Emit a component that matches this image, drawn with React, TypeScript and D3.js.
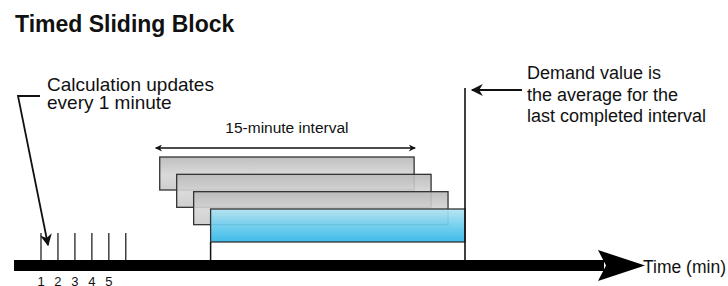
import React from 'react'
import * as d3 from 'd3'

// minute ticks on the time axis and their labels
const tickMinutes = [1, 2, 3, 4, 5, 6]
const tickLabels = ['1', '2', '3', '4', '5']
// the sliding 15-minute blocks, each one starts a minute later
const blockStarts = [8, 9, 10, 11]
const intervalLength = 15
const noteLeft = ['Calculation updates', 'every 1 minute']
const noteRight = ['Demand value is', 'the average for the', 'last completed interval']

const W = 728
const H = 286

export default function App() {
    const x = d3.scaleLinear().domain([1, 26]).range([41, 465])
    const row = d3.scaleLinear().domain([0, blockStarts.length - 1]).range([157, 209])
    const blockH = 33
    const axisY = 265.5
    const last = blockStarts[blockStarts.length - 1]
    const demandX = x(last + intervalLength)
    const font = '"Liberation Sans", Arial, sans-serif'

    return <svg width={W} height={H} style={{position: 'absolute', left: 0, top: 0, background: '#fff'}} fontFamily={font}>
        <defs>
            <linearGradient id="grey" x1="0" x2="0" y1="0" y2="1">
                <stop offset="0" stopColor="#b8b8b8" />
                <stop offset="0.55" stopColor="#d6d6d6" />
                <stop offset="1" stopColor="#cacaca" />
            </linearGradient>
            <linearGradient id="blue" x1="0" x2="0" y1="0" y2="1">
                <stop offset="0" stopColor="#b4e4f2" />
                <stop offset="0.5" stopColor="#6ccdee" />
                <stop offset="1" stopColor="#2fb4e6" />
            </linearGradient>
            <marker id="head" viewBox="0 0 10 10" refX="9" refY="5" markerWidth="9" markerHeight="7" orient="auto-start-reverse" markerUnits="userSpaceOnUse">
                <path d="M0,0 L10,5 L0,10 L3,5 Z" fill="#111" />
            </marker>
            <marker id="bighead" viewBox="0 0 10 10" refX="9" refY="5" markerWidth="18" markerHeight="12" orient="auto" markerUnits="userSpaceOnUse">
                <path d="M0,0 L10,5 L0,10 L3,5 Z" fill="#111" />
            </marker>
        </defs>

        <text x={15} y={32} fontSize={23} fontWeight="bold" fill="#111">Timed Sliding Block</text>

        {/* blocks */}
        {blockStarts.map((s, i) => {
            const isLast = i === blockStarts.length - 1
            return <rect key={s} x={x(s)} y={row(i)} width={x(s + intervalLength) - x(s)} height={blockH}
                fill={isLast ? 'url(#blue)' : 'url(#grey)'} fillOpacity={isLast ? 0.92 : 0.9}
                stroke="#333" strokeWidth={1.3} />
        })}

        {/* last block edges down to the axis */}
        <line x1={x(last)} x2={x(last)} y1={row(blockStarts.length - 1) + blockH} y2={axisY} stroke="#111" strokeWidth={1.5} />
        <line x1={demandX} x2={demandX} y1={88} y2={axisY} stroke="#111" strokeWidth={1.6} />

        {/* 15-minute interval arrow */}
        <line x1={x(blockStarts[0]) - 4} x2={x(blockStarts[0] + intervalLength) + 1} y1={148} y2={148} stroke="#111" strokeWidth={1.3}
            markerStart="url(#head)" markerEnd="url(#head)" />
        <text x={(x(blockStarts[0]) + x(blockStarts[0] + intervalLength)) / 2} y={133} fontSize={15.5} textAnchor="middle" fill="#111">15-minute interval</text>

        {/* minute ticks */}
        {tickMinutes.map(m => <line key={m} x1={x(m)} x2={x(m)} y1={233} y2={axisY} stroke="#111" strokeWidth={1.2} />)}
        {tickLabels.map((t, i) => <text key={t} x={x(tickMinutes[i])} y={286} fontSize={13} textAnchor="middle" fill="#111">{t}</text>)}

        {/* time axis */}
        <rect x={14} y={260} width={590} height={11} fill="#000" />
        <path d="M598,250 L645,265.5 L598,281 L606,265.5 Z" fill="#000" />
        <text x={643} y={273} fontSize={17.5} fill="#111">Time (min)</text>

        {/* left note */}
        {noteLeft.map((t, i) => <text key={t} x={47} y={90.5 + i * 18.5} fontSize={19} fill="#111">{t}</text>)}
        <polyline points={`40,96 18,96 ${x(1) + 7},245`} fill="none" stroke="#111" strokeWidth={1.8} markerEnd="url(#bighead)" />

        {/* right note */}
        {noteRight.map((t, i) => <text key={t} x={527} y={79 + i * 21.5} fontSize={18} fill="#111">{t}</text>)}
        <line x1={522} x2={demandX + 7} y1={90} y2={90} stroke="#111" strokeWidth={1.8} markerEnd="url(#bighead)" />
    </svg>
}
